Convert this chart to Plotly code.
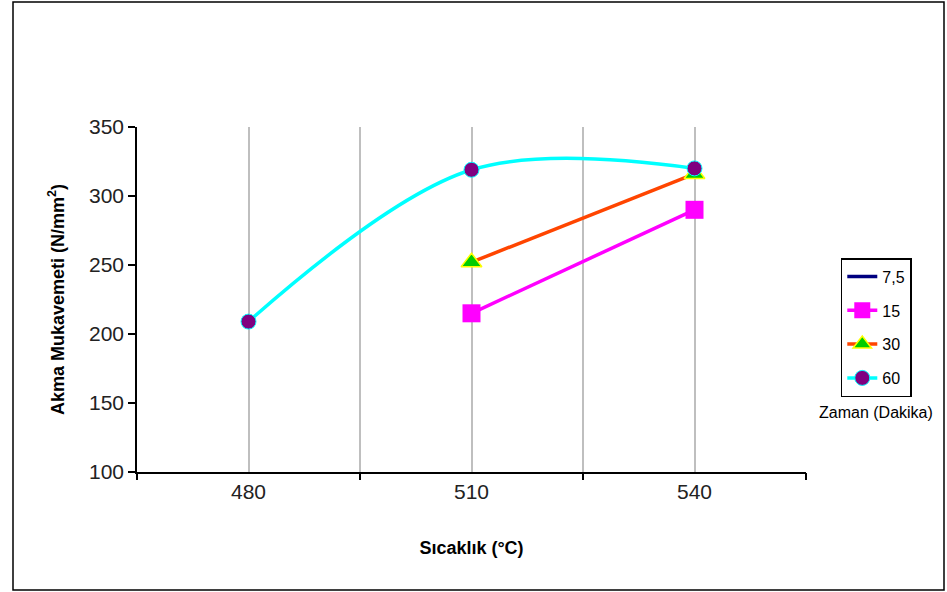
import plotly.graph_objects as go

temps = [480, 510, 540]
s75_x, s75_y = [None], [None]
s15_x = [510, 540]
s15_y = [215, 290]
s30_x = [510, 540]
s30_y = [252, 316]
s60_x = [480, 510, 540]
s60_y = [209, 319, 320]

labelvals = [480, 510, 540]
midvals = [495, 525]
tickmarks = [465, 495, 525, 555]

font = "Liberation Sans, Arial, sans-serif"

fig = go.Figure()
fig.add_trace(go.Scatter(x=s75_x, y=s75_y, name="7,5", mode="lines",
                         line=dict(color="#000080", width=3.5), legendgroup="a"))
fig.add_trace(go.Scatter(x=s15_x, y=s15_y, name="15", mode="lines+markers",
                         line=dict(color="#FF00FF", width=3.5),
                         marker=dict(symbol="square", size=18, color="#FF00FF"), legendgroup="b"))
fig.add_trace(go.Scatter(x=s30_x, y=s30_y, name="30", mode="lines+markers",
                         line=dict(color="#FF4500", width=3.5),
                         marker=dict(symbol="triangle-up", size=18, color="#00CC00",
                                     line=dict(color="#FFFF00", width=1.5)), legendgroup="c"))
fig.add_trace(go.Scatter(x=s60_x, y=s60_y, name="60", mode="lines+markers",
                         line=dict(color="#00FFFF", width=3.5, shape="spline", smoothing=1),
                         marker=dict(symbol="circle", size=15, color="#800080",
                                     line=dict(color="#00FFFF", width=1)), legendgroup="d"))
# invisible trace to drive secondary x axis with tick marks between categories
fig.add_trace(go.Scatter(x=[465, 555], y=[100, 100], xaxis="x2", mode="lines",
                         line=dict(width=0), showlegend=False, hoverinfo="skip"))

fig.update_layout(
    width=947, height=592,
    margin=dict(l=137, r=141, t=127, b=120),
    paper_bgcolor="white", plot_bgcolor="white",
    font=dict(family=font, size=16, color="black"),
    xaxis=dict(range=[465, 555], tickvals=labelvals,
               showgrid=True, gridcolor="#BFBFBF", gridwidth=1.5,
               minor=dict(tickvals=midvals, showgrid=True, gridcolor="#BFBFBF", gridwidth=1.5),
               ticks="", showline=True, linecolor="black", linewidth=1.5,
               zeroline=False, tickfont=dict(size=21, family=font, color="#222"),
               title=dict(text="<b>Sıcaklık (°C)</b>", font=dict(size=18, family=font), standoff=39)),
    xaxis2=dict(range=[465, 555], overlaying="x", tickvals=tickmarks, showticklabels=False,
                ticks="outside", ticklen=7, tickcolor="black", tickwidth=1.5, showgrid=False,
                zeroline=False, side="bottom", anchor="y"),
    yaxis=dict(range=[100, 350], dtick=50, tick0=100, showgrid=False,
               ticks="outside", ticklen=7, tickcolor="black", tickwidth=1.5,
               showline=True, linecolor="black", linewidth=1.5, zeroline=False,
               tickfont=dict(size=21, family=font, color="#222"),
               title=dict(text="<b>Akma Mukavemeti (N/mm<sup>2</sup>)</b>",
                          font=dict(size=18, family=font), standoff=20)),
    legend=dict(x=1.052, y=0.62, xanchor="left", yanchor="top",
                bordercolor="black", borderwidth=1.5, bgcolor="white",
                font=dict(size=16, family=font), traceorder="grouped",
                tracegroupgap=10),
    showlegend=True,
    shapes=[dict(type="rect", xref="paper", yref="paper",
                 x0=(13 - 137) / 669, x1=(944 - 137) / 669,
                 y0=(472 - 590) / 345, y1=(472 - 2) / 345,
                 line=dict(color="black", width=1.5))],
    annotations=[dict(text="Zaman (Dakika)", xref="paper", yref="paper",
                      x=(876 - 137) / 669, y=(472 - 412) / 345, xanchor="center", yanchor="middle",
                      showarrow=False, font=dict(size=16, family=font))],
)

fig.write_html("out.html", config={"displayModeBar": False},
               post_script="document.body.style.margin='0';document.body.style.overflow='hidden';")
